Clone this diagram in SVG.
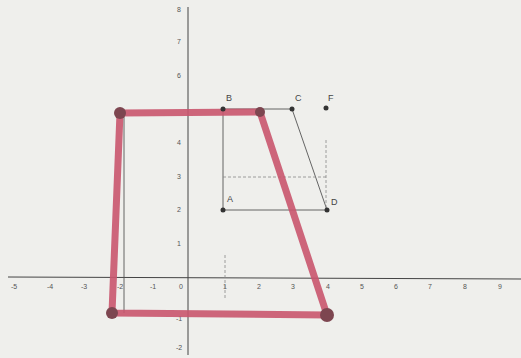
<svg xmlns="http://www.w3.org/2000/svg" width="521" height="358" viewBox="0 0 521 358">
<style>
.tick{font-family:"Liberation Sans",Arial,sans-serif;font-size:7px;fill:#555;text-anchor:middle}
.lbl{font-family:"Liberation Sans",Arial,sans-serif;font-size:9px;fill:#444}
.axis{stroke:#444;stroke-width:1;fill:none}
.thin{stroke:#555;stroke-width:0.9;fill:none}
.dash{stroke:#888;stroke-width:0.8;stroke-dasharray:3 2;fill:none}
.pt{fill:#333}
.red{stroke:#c9556e;stroke-width:7;fill:none;stroke-linejoin:round;stroke-linecap:round;opacity:0.9}
.rdot{fill:#7d4650}
</style>
<rect width="521" height="358" fill="#efefec"/>
<g id="axes">
<line class="axis" x1="8" y1="277" x2="521" y2="279"/>
<line class="axis" x1="188" y1="7" x2="188" y2="355"/>
<g>
<text class="tick" x="14" y="289">-5</text>
<text class="tick" x="50" y="289">-4</text>
<text class="tick" x="84" y="289">-3</text>
<text class="tick" x="120" y="289">-2</text>
<text class="tick" x="153" y="289">-1</text>
<text class="tick" x="181" y="289">0</text>
<text class="tick" x="225" y="289">1</text>
<text class="tick" x="259" y="289">2</text>
<text class="tick" x="293" y="289">3</text>
<text class="tick" x="328" y="289">4</text>
<text class="tick" x="362" y="289">5</text>
<text class="tick" x="396" y="289">6</text>
<text class="tick" x="430" y="289">7</text>
<text class="tick" x="465" y="289">8</text>
<text class="tick" x="500" y="289">9</text>
<text class="tick" x="179" y="12">8</text>
<text class="tick" x="179" y="44">7</text>
<text class="tick" x="179" y="78">6</text>
<text class="tick" x="179" y="145">4</text>
<text class="tick" x="179" y="179">3</text>
<text class="tick" x="179" y="212">2</text>
<text class="tick" x="179" y="246">1</text>
<text class="tick" x="179" y="321">-1</text>
<text class="tick" x="179" y="350">-2</text>
</g>
</g>
<g id="connectors">
<polyline class="thin" points="223,210 223,109 292,109 327,210 223,210"/>
<line class="dash" x1="223" y1="177" x2="328" y2="177"/>
<line class="dash" x1="326" y1="140" x2="326" y2="210"/>
<line class="thin" x1="124" y1="113" x2="124" y2="313" stroke="#777"/>
<line class="dash" x1="225" y1="255" x2="225" y2="300"/>
<polygon class="red" points="120,113 260,112 327,315 112,313"/>
</g>
<g id="A"><circle class="pt" cx="223" cy="210" r="2.5"/><text class="lbl" x="227" y="202">A</text></g>
<g id="B"><circle class="pt" cx="223" cy="109" r="2.5"/><text class="lbl" x="226" y="101">B</text></g>
<g id="C"><circle class="pt" cx="292" cy="109" r="2.5"/><text class="lbl" x="295" y="101">C</text></g>
<g id="D"><circle class="pt" cx="327" cy="210" r="2.5"/><text class="lbl" x="331" y="205">D</text></g>
<g id="F"><circle class="pt" cx="326" cy="108" r="2.5"/><text class="lbl" x="328" y="101">F</text></g>
<g id="red-corners">
<circle class="rdot" cx="120" cy="113" r="6"/>
<circle class="rdot" cx="260" cy="112" r="5"/>
<circle class="rdot" cx="327" cy="315" r="7"/>
<circle class="rdot" cx="112" cy="313" r="6"/>
</g>
</svg>
